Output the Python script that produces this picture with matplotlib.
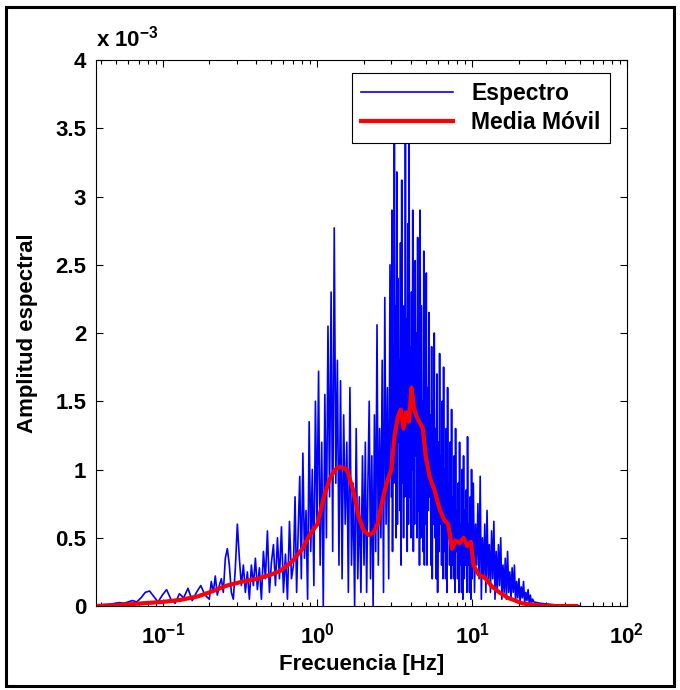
import numpy as np
import matplotlib
matplotlib.use('Agg')
import matplotlib.pyplot as plt
from matplotlib.ticker import FixedLocator, FixedFormatter, LogLocator, NullFormatter
from matplotlib.patches import Rectangle

plt.rcParams['font.family'] = 'Liberation Sans'
plt.rcParams['font.weight'] = 'bold'
plt.rcParams['mathtext.fontset'] = 'custom'
plt.rcParams['mathtext.rm'] = 'Liberation Sans:bold'
plt.rcParams['mathtext.bf'] = 'Liberation Sans:bold'

# spectrum amplitudes (x 1e-3), read band by band
band_edges = [(0.036, 0.2), (0.2, 0.7), (0.7, 2.0), (2.0, 3.0),
              (3.0, 5.0), (5.0, 10.0), (10.0, 25.0), (25.0, 50.0)]
band_a = [0.0, 0.005, 0.01, 0.012, 0.015, 0.02, 0.025, 0.02, 0.03, 0.04, 0.03, 0.06,
          0.1, 0.11, 0.07, 0.03, 0.08, 0.12, 0.05, 0.02, 0.09, 0.06, 0.13, 0.04, 0.1,
          0.15, 0.08]
band_b = [0.05, 0.18, 0.1, 0.22, 0.08, 0.15, 0.2, 0.1, 0.35, 0.42, 0.3, 0.1, 0.05, 0.28,
          0.6, 0.35, 0.15, 0.3, 0.1, 0.25, 0.05, 0.3, 0.15, 0.35, 0.12, 0.28, 0.05, 0.4,
          0.2, 0.55, 0.1, 0.32, 0.45, 0.15, 0.5, 0.2, 0.58, 0.1, 0.38, 0.05, 0.62, 0.2]
band_c = [0.3, 0.8, 0.1, 0.55, 0.95, 0.2, 1.12, 0.35, 0.7, 0.05, 1.35, 0.4, 1.0, 0.15,
          1.5, 0.6, 1.72, 0.3, 1.2, 0.0, 1.55, 0.5, 2.05, 0.8, 2.3, 0.4, 2.77, 0.9,
          1.8, 0.3, 1.65, 0.2, 1.4, 0.6, 1.2, 0.1, 1.6, 0.3, 0.9, 0.0, 1.3, 0.2, 0.8,
          0.1, 1.1]
band_d = [0.3, 1.2, 0.1, 0.9, 1.5, 0.2, 1.1, 0.0, 1.4, 0.4, 2.06, 0.3, 1.3, 0.5, 1.8,
          0.1, 2.26, 0.6, 1.6, 0.2, 2.5]
band_e = [0.8, 2.9, 0.4, 1.9, 0.9, 3.6, 1.0, 2.2, 0.5, 3.18, 0.6, 2.4, 1.2, 1.8, 0.7,
          2.66, 0.3, 3.12, 0.9, 1.6, 0.5, 2.2, 0.8, 3.7, 1.3, 2.1, 0.4, 2.8, 0.6, 3.4,
          0.8, 1.9, 0.5, 2.3, 1.0, 2.9, 0.4, 1.7, 0.6, 2.53, 1.1, 2.0, 0.5, 2.7, 0.7,
          1.8, 0.3, 2.9, 0.5, 2.2, 0.9, 1.5, 0.4, 2.6, 0.3, 2.0]
band_f = [0.6, 2.44, 0.3, 1.6, 0.7, 2.15, 0.8, 1.4, 0.3, 1.9, 0.2, 1.5, 0.6, 2.0, 0.5,
          1.3, 0.2, 1.7, 0.1, 1.2, 0.4, 1.85, 0.6, 1.1, 0.3, 1.5, 0.2, 1.75, 0.4, 1.0,
          0.2, 1.3, 0.1, 1.6, 0.5, 0.9, 0.3, 1.2, 0.2, 1.44, 0.3, 0.8, 0.2, 1.1, 0.1,
          1.3, 0.4, 0.7, 0.2, 0.9, 0.1, 1.2, 0.3, 0.6, 0.1, 1.0, 0.05, 1.1, 0.2, 0.7,
          0.3, 0.85, 0.1, 1.24, 0.3, 0.6, 0.1, 0.8, 0.05, 1.0]
band_g = [0.2, 0.9, 0.1, 0.6, 0.3, 0.75, 0.2, 0.95, 0.05, 0.5, 0.2, 0.6, 0.1, 0.7, 0.2,
          0.45, 0.1, 0.55, 0.2, 0.62, 0.05, 0.4, 0.1, 0.45, 0.15, 0.5, 0.05, 0.3, 0.1,
          0.35, 0.05, 0.4, 0.1, 0.25, 0.05, 0.28, 0.1, 0.3, 0.03, 0.18, 0.06, 0.2, 0.03,
          0.14, 0.06, 0.18, 0.02, 0.1, 0.04, 0.12, 0.02, 0.08, 0.02, 0.05]
band_h = [0.03, 0.02, 0.015, 0.01, 0.005, 0.003, 0.002, 0.0]
bands = [band_a, band_b, band_c, band_d, band_e, band_f, band_g, band_h]

# moving average (x 1e-3)
ma_freq = [0.036, 0.05, 0.074, 0.1, 0.13, 0.168, 0.2, 0.26, 0.33, 0.41, 0.5, 0.58,
           0.69, 0.8, 0.9, 1.0, 1.1, 1.2, 1.3, 1.4, 1.55, 1.7, 1.85, 2.0, 2.15, 2.3,
           2.45, 2.6, 2.8, 3.0, 3.15, 3.3, 3.45, 3.6, 3.75, 3.9, 4.05, 4.2, 4.4, 4.6,
           4.8, 5.0, 5.3, 5.7, 6.2, 6.6, 7.0, 7.4, 7.8, 8.3, 8.8, 9.3, 9.8, 10.2, 11,
           12, 13.5, 15, 17, 19, 21, 24, 27, 32, 40, 47]
ma_vals = [0.0, 0.005, 0.02, 0.03, 0.045, 0.07, 0.1, 0.15, 0.18, 0.2, 0.23, 0.26,
           0.33, 0.42, 0.53, 0.6, 0.8, 0.93, 1.0, 1.02, 1.0, 0.85, 0.65, 0.55, 0.52,
           0.54, 0.6, 0.75, 0.9, 1.0, 1.25, 1.38, 1.44, 1.3, 1.42, 1.35, 1.6, 1.45,
           1.38, 1.34, 1.3, 1.1, 0.95, 0.85, 0.7, 0.63, 0.6, 0.42, 0.48, 0.46, 0.5,
           0.44, 0.47, 0.3, 0.23, 0.21, 0.14, 0.1, 0.06, 0.04, 0.02, 0.01, 0.005,
           0.0, 0.0, 0.0]

y_ticks = [0, 0.5, 1, 1.5, 2, 2.5, 3, 3.5, 4]
y_labels = ['0', '0.5', '1', '1.5', '2', '2.5', '3', '3.5', '4']
x_ticks = [0.1, 1, 10, 100]
x_labels = [r'$10^{-1}$', r'$10^{0}$', r'$10^{1}$', r'$10^{2}$']

# spread each band's points over its frequency range
freq, amp = [], []
for i, ((lo, hi), vals) in enumerate(zip(band_edges, bands)):
    last = i == len(bands) - 1
    freq.extend(np.geomspace(lo, hi, len(vals), endpoint=last))
    amp.extend(vals)

fig = plt.figure(figsize=(6.8, 6.9), dpi=100)
ax = fig.add_axes([0.141, 0.1217, 0.781, 0.7913])

ax.plot(freq, amp, color='#0000ff', lw=1.2, label='Espectro')
ax.plot(ma_freq, ma_vals, color='#ff0000', lw=3.0, label='Media Móvil')

ax.set_xscale('log')
ax.set_xlim(0.037, 100)
ax.set_ylim(0, 4)

ax.xaxis.set_major_locator(FixedLocator(x_ticks))
ax.xaxis.set_major_formatter(FixedFormatter(x_labels))
ax.xaxis.set_minor_locator(LogLocator(base=10, subs=np.arange(2, 10)))
ax.xaxis.set_minor_formatter(NullFormatter())
ax.yaxis.set_major_locator(FixedLocator(y_ticks))
ax.yaxis.set_major_formatter(FixedFormatter(y_labels))

ax.tick_params(which='both', direction='in', top=True, right=True, labelsize=16)
ax.tick_params(which='major', length=5, width=0.8)
ax.tick_params(which='minor', length=3, width=0.8)
ax.tick_params(axis='x', pad=12)
ax.tick_params(axis='y', pad=7)

ax.set_xlabel('Frecuencia [Hz]', fontsize=16, fontweight='bold', labelpad=4)
ax.set_ylabel('Amplitud espectral', fontsize=16, fontweight='bold', labelpad=12)
ax.text(0.0, 1.015, r'x $10^{-3}$', transform=ax.transAxes, fontsize=16,
        ha='left', va='bottom')

leg = ax.legend(loc='upper right', bbox_to_anchor=(0.968, 0.976), borderaxespad=0,
                fontsize=16.5, handlelength=4.0, fancybox=False, edgecolor='black',
                framealpha=1, borderpad=0.4, labelspacing=0.25)
leg.get_frame().set_linewidth(0.8)

fig.patches.append(Rectangle((0.009, 0.006), 0.982, 0.984, transform=fig.transFigure,
                             fill=False, edgecolor='black', lw=2.2))

fig.savefig('out.png', dpi=100)
